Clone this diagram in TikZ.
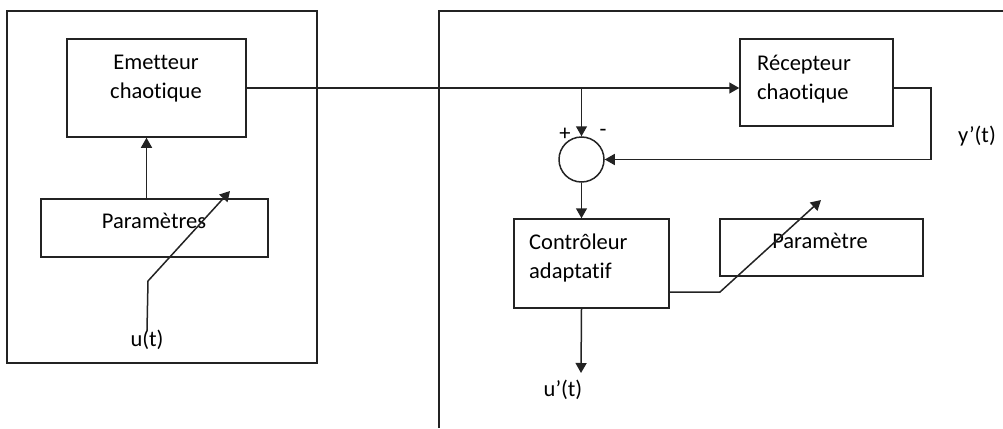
\documentclass[tikz,border=0pt]{standalone}
\usepackage{fontspec}
\setmainfont{Carlito}[Ligatures=NoCommon]
\usetikzlibrary{arrows.meta}
\definecolor{cline}{RGB}{35,35,35}
\tikzset{frm/.style={draw=cline,line width=1.5pt},
         blk/.style={draw=cline,line width=1.5pt,inner sep=0pt},
         lbl/.style={inner sep=0pt,font=\fontsize{22.5}{29}\selectfont},
         sig/.style={draw=cline,line width=1.5pt,-{Triangle[length=10pt,width=11pt]}}}

\begin{document}
\begin{tikzpicture}[x=1pt,y=-1pt]
    \useasboundingbox (0,0) rectangle (1003,428);
    \draw[frm] (7,11) rectangle (317,363);
    \draw[frm] (439,428) -- (439,11) -- (1003,11);
    % emitter side
    \node[blk,minimum width=179pt,minimum height=98pt] (emet) at (156.5,88) {};
    \node[lbl,align=center] (emettxt) at (156,79) {Emetteur\\chaotique};
    \node[blk,minimum width=227pt,minimum height=58pt] (param) at (154.5,228) {};
    \node[lbl] (paramtxt) at (154,221) {Paramètres};
    \node[lbl] (ut) at (147,340) {u(t)};
    \coordinate (ukink) at (148,281);
    \coordinate (utip) at (230,191);
    \draw[sig] ([xshift=-8pt]param.north) -- ([xshift=-8pt]param.north |- emet.south);
    \draw[sig] (ut.north) -- (ukink) -- (utip);
    % receiver side
    \node[blk,minimum width=153pt,minimum height=87pt] (recv) at (816.5,82.5) {};
    \node[lbl,align=left,anchor=west] (recvtxt) at (757,79) {Récepteur\\chaotique};
    \node[blk,circle,minimum size=45pt] (sum) at (581.5,159.5) {};
    \node[lbl] (plus) at (565,134) {+};
    \node[lbl] (minus) at (603,133) {-};
    \node[lbl] (yp) at (977,136) {y’(t)};
    \coordinate (split) at (sum.north |- emet.east);
    \coordinate (fbk) at (931,159.5);
    \draw[sig] (emet.east) -- (emet.east -| recv.west);
    \draw[sig] (split) -- (sum.north);
    \draw[sig] (recv.east |- emet.east) -| (fbk) -- (sum.east);
    % controller
    \node[blk,minimum width=155pt,minimum height=89pt] (ctrl) at (591.5,263.5) {};
    \node[lbl,align=left,anchor=west] (ctrltxt) at (529,258) {Contrôleur\\adaptatif};
    \node[blk,minimum width=203pt,minimum height=57pt] (parm) at (821.5,247.5) {};
    \node[lbl] (parmtxt) at (820,241) {Paramètre};
    \node[lbl] (up) at (563,390) {u’(t)};
    \coordinate (cknee) at (720,292);
    \coordinate (ctip) at (821,200);
    \coordinate (uend) at (581,373);
    \draw[sig] (sum.south) -- (sum.south |- ctrl.north);
    \draw[sig] (ctrl.east |- cknee) -- (cknee) -- (ctip);
    \draw[sig] (sum.south |- ctrl.south) -- (uend);
\end{tikzpicture}
\end{document}
